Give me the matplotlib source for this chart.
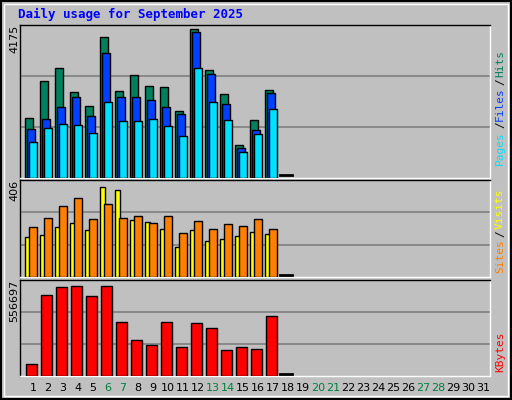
import matplotlib
matplotlib.use("Agg")
import matplotlib.pyplot as plt
from matplotlib.patches import Rectangle

W, H = 512, 400
days = list(range(1, 32))
weekend = [6, 7, 13, 14, 20, 21, 27, 28]
hits = [1637, 2658, 2989, 2354, 1968, 3844, 2382, 2823, 2520, 2492, 1830, 4065, 2934, 2299, 892, 1582, 2409]
files = [1333, 1609, 1940, 2216, 1692, 3403, 2216, 2216, 2115, 1940, 1747, 3982, 2851, 2023, 810, 1306, 2327]
pages = [975, 1361, 1471, 1444, 1223, 2078, 1554, 1554, 1609, 1416, 1140, 2989, 2078, 1582, 699, 1195, 1885]
visits = [181, 191, 225, 243, 212, 406, 393, 256, 247, 216, 137, 212, 163, 172, 185, 203, 194]
sites = [225, 265, 322, 357, 260, 331, 265, 274, 243, 274, 199, 252, 216, 238, 229, 260, 216]
kbytes = [77200, 501800, 550600, 556697, 495700, 556697, 337300, 221500, 191000, 337300,
          178800, 331200, 300700, 160500, 178800, 166600, 373800]
today = 18
max_hits, max_visits, max_kb = 4175, 406, 556697

BG = "#c0c0c0"
fig = plt.figure(figsize=(W / 100, H / 100), dpi=100, facecolor=BG)
mono = "DejaVu Sans Mono"


def px_axes(x0, y0, x1, y1):
    ax = fig.add_axes([x0 / W, 1 - y1 / H, (x1 - x0) / W, (y1 - y0) / H])
    ax.set_facecolor(BG)
    ax.set_xlim(0.13, 31.47)
    ax.set_xticks([])
    ax.set_yticks([])
    for s in ax.spines.values():
        s.set_color("black")
        s.set_linewidth(1)
    ax.spines["right"].set_color("white")
    ax.spines["bottom"].set_color("white")
    return ax


def bars(ax, vals, left, right, color):
    for d, v in zip(days, vals):
        ax.bar(d + left, v, width=right - left, align="edge", color=color,
               edgecolor="black", linewidth=1, zorder=3)


def today_mark(ax, top):
    ax.plot([today - 0.5, today + 0.27], [top * 0.02] * 2, color="black", lw=2, zorder=3)


# top panel
ax1 = px_axes(20, 25, 490, 178)
ax1.set_ylim(0, max_hits)
for g in (1 / 3, 2 / 3):
    ax1.axhline(max_hits * g, color="#808080", lw=1.2, zorder=1)
bars(ax1, hits, -0.53, 0.0, "#00805c")
bars(ax1, files, -0.42, 0.11, "#0040ff")
bars(ax1, pages, -0.25, 0.25, "#00e0ff")
today_mark(ax1, max_hits)

# middle panel
ax2 = px_axes(20, 180, 490, 277)
ax2.set_ylim(0, max_visits * 1.08)
for g in (1 / 3, 2 / 3):
    ax2.axhline(max_visits * 1.08 * g, color="#808080", lw=1.2, zorder=1)
bars(ax2, visits, -0.51, -0.2, "#ffff00")
bars(ax2, sites, -0.25, 0.25, "#ff8000")
today_mark(ax2, max_visits)

# bottom panel
ax3 = px_axes(20, 280, 490, 376)
ax3.set_ylim(0, max_kb * 1.07)
for g in (1 / 3, 2 / 3):
    ax3.axhline(max_kb * 1.07 * g, color="#808080", lw=1.2, zorder=1)
bars(ax3, kbytes, -0.45, 0.25, "#ff0000")
today_mark(ax3, max_kb)

# day labels
for d in days:
    fig.text((33 + (d - 1) * 15) / W, 1 - 388 / H, str(d), ha="center", va="center",
             fontsize=8, color="#008040" if d in weekend else "black")

# left max labels
for y, lab in ((25, "4175"), (180, "406"), (280, "556697")):
    fig.text(14 / W, 1 - y / H, lab, rotation=90, ha="center", va="top", fontsize=8)


def right_label(y_bottom, parts):
    y = y_bottom
    for txt, col in parts:
        fig.text(500 / W, 1 - y / H, txt, rotation=90, ha="center", va="bottom",
                 fontsize=8, family=mono, color=col)
        y -= len(txt) * 7.3


right_label(165, [("Pages", "#00e0ff"), ("/", "black"), ("Files", "#0040ff"),
                  ("/", "black"), ("Hits", "#00805c")])
right_label(273, [("Sites", "#ff8000"), ("/", "black"), ("Visits", "#ffff00")])
right_label(372, [("KBytes", "#ff0000")])

fig.text(18 / W, 1 - 14 / H, "Daily usage for September 2025", fontsize=9,
         family=mono, weight="bold", color="#0000ff", va="center")

# bevelled frame
fig.patches.append(Rectangle((1 / W, 1 / H), (W - 2) / W, (H - 2) / H, fill=False,
                             edgecolor="black", lw=1.5, transform=fig.transFigure))
fig.patches.append(Rectangle((4 / W, 4 / H), (W - 8) / W, (H - 8) / H, fill=False,
                             edgecolor="white", lw=1, transform=fig.transFigure))

fig.savefig("out.png", dpi=100, facecolor=BG)
